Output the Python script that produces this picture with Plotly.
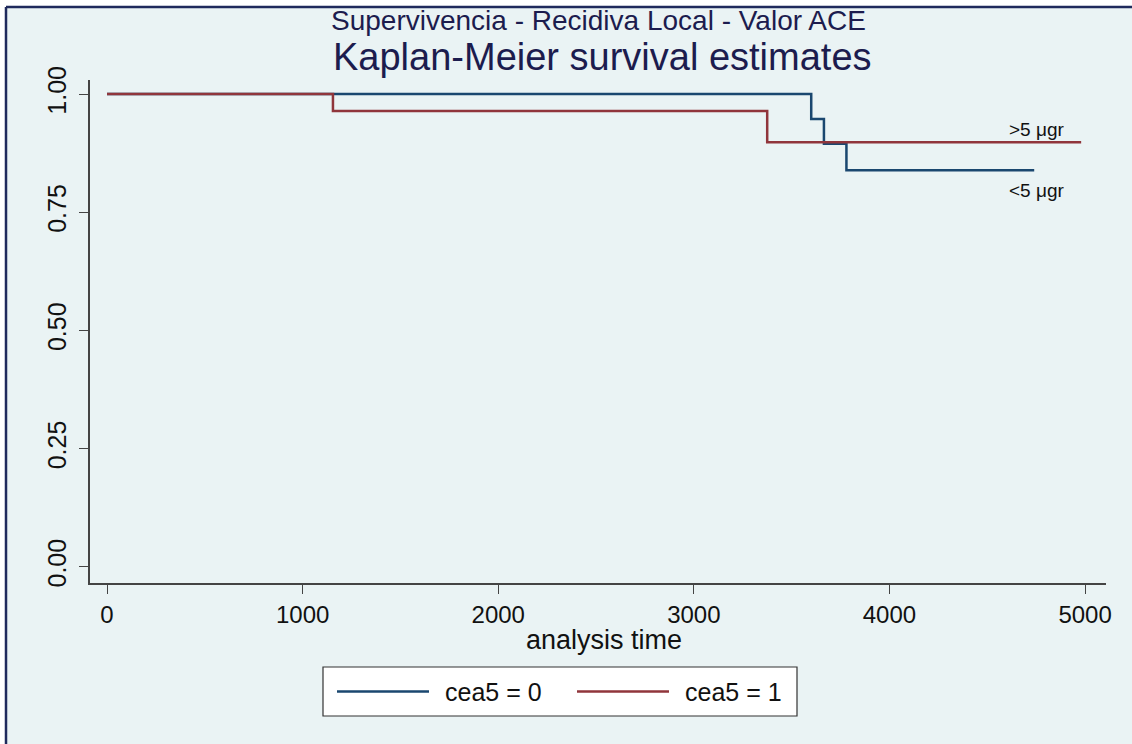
import plotly.graph_objects as go

# ---- data ----
series_names = ["cea5 = 0", "cea5 = 1"]
series_colors = ["#1A476F", "#90353B"]
time_cea0 = [0, 3600, 3665, 3780, 4740]
surv_cea0 = [1.0, 0.947, 0.895, 0.839, 0.839]
time_cea1 = [0, 1155, 3375, 4980]
surv_cea1 = [1.0, 0.964, 0.898, 0.898]
curve_labels = [">5 \u03bcgr", "<5 \u03bcgr"]
label_x = [4905, 4905]
label_y = [0.924, 0.797]
x_ticks = [0, 1000, 2000, 3000, 4000, 5000]
y_ticks = [0.00, 0.25, 0.50, 0.75, 1.00]
y_ticklabels = ["0.00", "0.25", "0.50", "0.75", "1.00"]
title_line1 = "Supervivencia - Recidiva Local - Valor ACE"
title_line2 = "Kaplan-Meier survival estimates"
x_title = "analysis time"

W, H = 1132, 744
ML, MR, MT, MB = 90, 26, 80, 161
PW, PH = W - ML - MR, H - MT - MB
FONT = "Liberation Sans, Arial, sans-serif"
BG = "#EAF3F4"
NAVY = "#1F2A5C"
TXT = "#111111"


def px2x(px):
    return (px - ML) / PW


def py2y(py):
    return (H - MB - py) / PH


fig = go.Figure()
for t, s, name, col in zip([time_cea0, time_cea1], [surv_cea0, surv_cea1],
                           series_names, series_colors):
    fig.add_trace(go.Scatter(x=t, y=s, mode="lines", line_shape="hv",
                             line=dict(color=col, width=2.5), name=name,
                             showlegend=False))

shapes = []
shapes.append(dict(type="rect", xref="paper", yref="paper",
                   x0=px2x(6), x1=px2x(W + 20), y0=py2y(7), y1=py2y(H + 20),
                   fillcolor=BG, line=dict(width=0), layer="below"))
shapes.append(dict(type="line", xref="paper", yref="paper",
                   x0=px2x(6), x1=px2x(W + 5), y0=py2y(7), y1=py2y(7),
                   line=dict(color=NAVY, width=2.5)))
shapes.append(dict(type="line", xref="paper", yref="paper",
                   x0=px2x(6), x1=px2x(6), y0=py2y(7), y1=py2y(H + 5),
                   line=dict(color=NAVY, width=2.5)))

annotations = []
annotations.append(dict(text=title_line1, xref="paper", yref="paper",
                        x=px2x(598), y=py2y(20), showarrow=False,
                        font=dict(family=FONT, size=28, color="#1C1C4E"),
                        xanchor="center", yanchor="middle"))
annotations.append(dict(text=title_line2, xref="paper", yref="paper",
                        x=px2x(602), y=py2y(57), showarrow=False,
                        font=dict(family=FONT, size=38, color="#1C1C4E"),
                        xanchor="center", yanchor="middle"))
for txt, lx, ly in zip(curve_labels, label_x, label_y):
    annotations.append(dict(text=txt, x=lx, y=ly, xref="x", yref="y",
                            showarrow=False, xanchor="right", yanchor="middle",
                            font=dict(family=FONT, size=19, color=TXT)))

# legend box (manual, built from series lists)
LX0, LX1, LY0, LY1 = 323, 797, 667, 716
shapes.append(dict(type="rect", xref="paper", yref="paper",
                   x0=px2x(LX0), x1=px2x(LX1), y0=py2y(LY0), y1=py2y(LY1),
                   fillcolor="white", line=dict(color="#333333", width=1.2)))
ymid = (LY0 + LY1) / 2
for i, (name, col) in enumerate(zip(series_names, series_colors)):
    sx = LX0 + 14 + i * 240
    shapes.append(dict(type="line", xref="paper", yref="paper",
                       x0=px2x(sx), x1=px2x(sx + 92), y0=py2y(ymid), y1=py2y(ymid),
                       line=dict(color=col, width=2.5)))
    annotations.append(dict(text=name, xref="paper", yref="paper",
                            x=px2x(sx + 106), y=py2y(ymid), showarrow=False,
                            xanchor="left", yanchor="middle",
                            font=dict(family=FONT, size=25, color=TXT)))

annotations.append(dict(text=x_title, xref="paper", yref="paper",
                        x=px2x(604), y=py2y(640), showarrow=False,
                        xanchor="center", yanchor="middle",
                        font=dict(family=FONT, size=27, color=TXT)))

fig.update_layout(
    width=W, height=H,
    margin=dict(l=ML, r=MR, t=MT, b=MB, pad=0),
    paper_bgcolor="white",
    plot_bgcolor="white",
    font=dict(family=FONT, size=22, color=TXT),
    shapes=shapes,
    annotations=annotations,
    showlegend=False,
    xaxis=dict(range=[-87, 5107], tickvals=x_ticks,
               ticks="outside", ticklen=9, tickwidth=1.2, tickcolor="#444444",
               showline=True, linecolor="#444444", linewidth=1.5,
               showgrid=False, zeroline=False,
               tickfont=dict(family=FONT, size=24, color=TXT)),
    yaxis=dict(range=[-0.034, 1.0297], tickvals=y_ticks, ticktext=y_ticklabels,
               tickangle=-90, ticklabelstandoff=3,
               ticks="outside", ticklen=9, tickwidth=1.2, tickcolor="#444444",
               showline=True, linecolor="#444444", linewidth=1.5,
               showgrid=True, gridcolor=BG, gridwidth=2, zeroline=False,
               tickfont=dict(family=FONT, size=25, color=TXT)),
)

fig.write_html("out.html")
